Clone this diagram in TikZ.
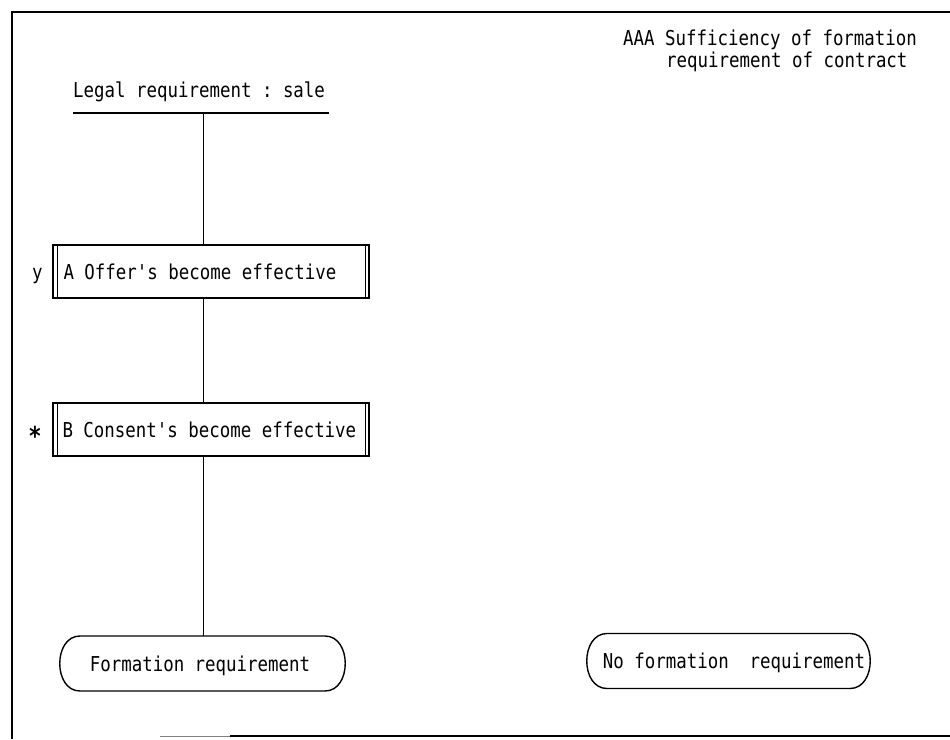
\documentclass[tikz,border=0pt]{standalone}
\usepackage{fontspec}
\setmonofont[FakeStretch=0.85]{DejaVu Sans Mono}
\usetikzlibrary{calc}

\begin{document}
\begin{tikzpicture}[x=1pt,y=-1pt,
  lbl/.style={font=\ttfamily\fontsize{20.5}{24}\selectfont, inner sep=0pt, anchor=base west},
  ovaltext/.style={font=\ttfamily\fontsize{20.5}{24}\selectfont, inner sep=0pt,
    minimum height=55pt, text height=15pt, text depth=0pt},
  stepbox/.style={draw, line width=1.4pt, minimum width=316pt, minimum height=53pt, inner sep=0pt},
  boxline/.style={line width=1.1pt},
  conn/.style={line width=1pt},
  ovalline/.style={line width=1.4pt},
  frame/.style={line width=1.6pt}
]
\useasboundingbox (0,0) rectangle (950,739);

% outer frame
\draw[frame] (950,12) -- (12,12) -- (12,739);
\draw[gray, line width=0.8pt] (160,736) -- (230,736);
\draw[frame] (230,736) -- (950,736);

% heading
\node[lbl] (hd1) at (623,45) {AAA Sufficiency of formation};
\node[lbl] (hd2) at (666,67) {requirement of contract};

% left column
\node[lbl] (title) at (73,97) {Legal requirement : sale};
\coordinate (ulL) at (73,113);
\coordinate (ulR) at (329,113);
\coordinate (ulmid) at (203,113);
\draw[line width=1.8pt] (ulL) -- (ulR);

\node[stepbox] (boxA) at (211,271.5) {};
\node[lbl] (txtA) at ($(boxA.west)+(11,8)$) {A Offer's become effective};
\draw[boxline] ([xshift=5pt]boxA.north west) -- ([xshift=5pt]boxA.south west);
\draw[boxline] ([xshift=-4pt]boxA.north east) -- ([xshift=-4pt]boxA.south east);
\node[lbl] (markA) at (32,279.5) {y};

\node[stepbox] (boxB) at (211,429.5) {};
\node[lbl] (txtB) at ($(boxB.west)+(10,8)$) {B Consent's become effective};
\draw[boxline] ([xshift=5pt]boxB.north west) -- ([xshift=5pt]boxB.south west);
\draw[boxline] ([xshift=-4pt]boxB.north east) -- ([xshift=-4pt]boxB.south east);
\node[font=\ttfamily\bfseries\fontsize{26}{30}\selectfont, inner sep=0pt, anchor=base] (markB) at (35,445) {*};

% terminal ovals
\node[ovaltext] (f1) at (200,663.5) {Formation requirement};
\draw[ovalline] ($(f1.center)+(-120,-27.5)$) -- ++(245,0)
  .. controls +(27,0) and +(27,0) .. ++(0,55) -- ++(-245,0)
  .. controls +(-27,0) and +(-27,0) .. ++(0,-55) -- cycle;

\node[ovaltext] (f2) at (734,661) {No formation~ requirement};
\draw[ovalline] ($(f2.center)+(-127,-27.5)$) -- ++(243,0)
  .. controls +(27,0) and +(27,0) .. ++(0,55) -- ++(-243,0)
  .. controls +(-27,0) and +(-27,0) .. ++(0,-55) -- cycle;

% connectors
\draw[conn] (ulmid) -- (ulmid |- boxA.north);
\draw[conn] (ulmid |- boxA.south) -- (ulmid |- boxB.north);
\draw[conn] (ulmid |- boxB.south) -- (ulmid |- f1.north);
\end{tikzpicture}
\end{document}
